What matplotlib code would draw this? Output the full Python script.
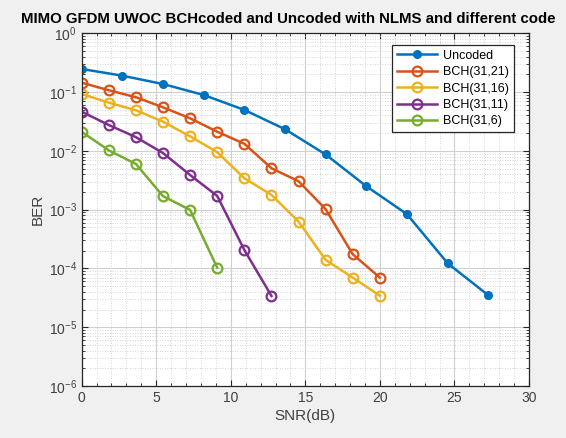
import numpy as np
import matplotlib
matplotlib.use("Agg")
import matplotlib.pyplot as plt
from matplotlib.ticker import MultipleLocator, LogLocator, NullFormatter

plt.rcParams['font.family'] = ['Liberation Sans', 'DejaVu Sans']

snr_uncoded = [0, 2.73, 5.45, 8.18, 10.91, 13.64, 16.36, 19.09, 21.82, 24.55, 27.27]
ber_uncoded = [0.247, 0.190, 0.137, 0.0893, 0.0497, 0.0233, 0.00869, 0.0025, 0.000836, 0.000122, 3.5e-5]

snr_coded = [0, 1.82, 3.64, 5.45, 7.27, 9.09, 10.91, 12.73, 14.55, 16.36, 18.18, 20.0]
ber_31_21 = [0.1445, 0.1074, 0.0817, 0.0551, 0.0358, 0.0212, 0.0132, 0.00506, 0.00304, 0.00102, 0.000174, 6.98e-5]
ber_31_16 = [0.0929, 0.0661, 0.0490, 0.0314, 0.0177, 0.0095, 0.00342, 0.00178, 0.000625, 0.00014, 6.98e-5, 3.44e-5]
ber_31_11 = [0.0464, 0.0275, 0.0171, 0.0092, 0.00389, 0.00171, 0.000206, 3.4e-5]
ber_31_6 = [0.0211, 0.0102, 0.00598, 0.0017, 0.00099, 0.000103]

labels = ['Uncoded', 'BCH(31,21)', 'BCH(31,16)', 'BCH(31,11)', 'BCH(31,6)']
colors = ['#0072BD', '#D95319', '#EDB120', '#7E2F8E', '#77AC30']
title_text = 'MIMO GFDM UWOC BCHcoded and Uncoded with NLMS and different code'

fig = plt.figure(figsize=(5.66, 4.38), dpi=100, facecolor='#f0f0f0')
ax = fig.add_axes([0.1443, 0.1187, 0.7903, 0.8053])
ax.set_facecolor('white')

lw = 1.8
ax.semilogy(snr_uncoded, ber_uncoded, '.-', color=colors[0], lw=lw, ms=11, label=labels[0])
series = [ber_31_21, ber_31_16, ber_31_11, ber_31_6]
for i, b in enumerate(series):
    ax.semilogy(snr_coded[:len(b)], b, 'o-', color=colors[i + 1], lw=lw, ms=7,
                mfc='none', mew=1.6, label=labels[i + 1])

ax.set_xlim(0, 30)
ax.set_ylim(1e-6, 1)
ax.xaxis.set_major_locator(MultipleLocator(5))
ax.xaxis.set_minor_locator(MultipleLocator(1))
ax.xaxis.set_minor_formatter(NullFormatter())
ax.yaxis.set_major_locator(LogLocator(base=10, numticks=10))
ax.yaxis.set_minor_locator(LogLocator(base=10, subs=np.arange(2, 10), numticks=20))
ax.yaxis.set_minor_formatter(NullFormatter())

ax.grid(True, which='major', color='#d0d0d0', lw=0.8, ls='-')
ax.grid(True, which='minor', color='#c8c8c8', lw=0.6, ls=(0, (1, 2)))
ax.set_axisbelow(True)

ax.tick_params(which='both', direction='in', top=True, right=True, colors='#262626',
               labelsize=10, labelcolor='#404040')
ax.tick_params(which='major', length=4)
ax.tick_params(which='minor', length=2)
for s in ax.spines.values():
    s.set_color('#262626')
    s.set_linewidth(0.9)

ax.set_xlabel('SNR(dB)', fontsize=11, color='#404040', labelpad=3)
ax.set_ylabel('BER', fontsize=11, color='#404040', labelpad=3)

t = fig.text(288.5 / 566, 1 - 19 / 438, title_text, ha='center', va='center',
             fontsize=11, fontweight='bold', color='black')
fig.canvas.draw()
w = t.get_window_extent().width
t.set_fontsize(11 * 537.0 / w)

leg = ax.legend(loc='upper right', fontsize=9, frameon=True, fancybox=False,
                edgecolor='#262626', framealpha=1, handlelength=3.2,
                borderpad=0.4, labelspacing=0.35, handletextpad=0.5,
                bbox_to_anchor=(0.98, 0.985))
leg.get_frame().set_linewidth(0.9)

fig.savefig('out.png', dpi=100, facecolor=fig.get_facecolor())
